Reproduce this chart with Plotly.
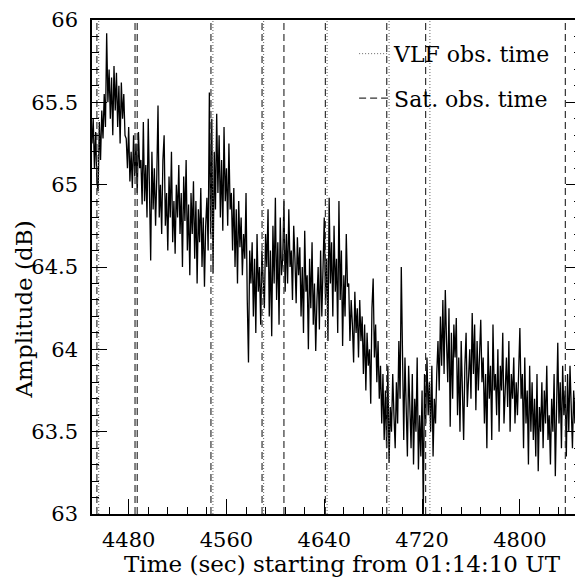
import plotly.graph_objects as go

# ---- data ----
t_start = 4450          # first sample time (s)
t_step = 1              # sampling step (s)
amplitude = [
    65.25, 65.40, 65.10, 65.32, 65.02, 64.96, 65.38, 65.15, 65.45, 65.28,
    65.55, 65.35, 65.92, 65.50, 65.70, 65.40, 65.65, 65.30, 65.72, 65.45,
    65.68, 65.35, 65.60, 65.25, 65.62, 65.40, 65.55, 65.30, 65.28, 65.10,
    65.35, 65.02, 65.20, 64.98, 65.30, 65.05, 65.25, 64.95, 65.32, 65.10,
    65.15, 64.88, 65.38, 64.90, 65.12, 64.80, 65.40, 65.00, 64.54, 65.20,
    64.85, 65.10, 64.75, 65.05, 65.48, 64.80, 65.00, 64.70, 65.15, 65.30,
    64.75, 64.95, 64.60, 65.05, 64.80, 65.20, 64.65, 64.90, 64.58, 65.00,
    64.80, 65.12, 64.70, 64.95, 64.50, 65.05, 64.78, 65.15, 64.60, 64.88,
    64.45, 64.95, 64.70, 65.02, 64.55, 64.90, 64.40, 64.85, 64.65, 64.98,
    64.50, 64.80, 64.38, 64.75, 64.92, 64.60, 65.56, 64.70, 65.40, 64.46,
    65.20, 64.85, 65.43, 64.95, 65.30, 64.80, 65.15, 64.72, 65.35, 64.90,
    65.10, 64.75, 65.25, 64.85, 64.95, 64.60, 64.98, 64.50, 64.85, 64.40,
    64.90, 64.62, 64.80, 64.45, 64.70, 64.55, 64.95, 64.30, 63.92, 64.60,
    64.40, 64.65, 64.20, 64.55, 64.10, 64.70, 64.35, 64.50, 64.15, 64.60,
    64.45, 64.25, 64.70, 64.50, 64.85, 64.20, 64.60, 64.08, 64.75, 64.40,
    64.92, 64.30, 64.65, 64.15, 64.80, 64.45, 64.55, 64.90, 64.35, 64.70,
    64.40, 64.85, 64.50, 64.60, 64.30, 64.75, 64.55, 64.28, 64.68, 64.45,
    64.62, 64.20, 64.50, 64.10, 64.72, 64.35, 64.45, 64.00, 64.55, 64.25,
    64.65, 64.15, 64.40, 63.99, 64.30, 64.50, 64.12, 64.60, 64.20, 64.45,
    64.80, 64.30, 64.55, 64.05, 64.92, 64.40, 64.65, 64.20, 64.75, 64.35,
    64.55, 64.10, 64.90, 64.30, 64.60, 64.02, 64.45, 64.20, 64.70, 64.38,
    64.40, 64.05, 64.30, 64.15, 63.92, 64.35, 64.10, 64.25, 63.95, 64.30,
    64.05, 64.20, 63.85, 64.15, 63.75, 64.10, 63.90, 64.00, 63.67, 64.25,
    64.43, 63.95, 64.15, 63.80, 64.05, 63.70, 63.90, 63.55, 63.85, 63.45,
    63.75, 63.40, 63.90, 63.31, 63.65, 63.50, 63.85, 63.60, 63.40, 63.80,
    63.55, 64.05, 63.70, 64.50, 63.80, 63.45, 63.95, 63.60, 63.35, 63.90,
    63.65, 63.40, 63.85, 63.30, 63.70, 63.50, 63.95, 63.27, 63.60, 63.35,
    63.75, 63.00, 63.85, 63.55, 63.95, 63.60, 63.80, 63.50, 63.90, 63.35,
    63.70, 63.55, 63.85, 64.05, 63.75, 64.20, 63.90, 64.30, 63.85, 64.36,
    64.05, 63.80, 64.25, 63.53, 64.10, 63.70, 64.15, 63.95, 64.19, 63.60,
    63.95, 63.50, 64.05, 63.75, 63.45, 63.90, 64.10, 63.65, 63.85, 64.00,
    63.70, 64.22, 63.85, 64.15, 63.63, 64.05, 63.75, 63.95, 64.18, 63.80,
    63.95, 63.55, 63.85, 63.40, 64.05, 63.70, 63.90, 63.45, 64.15, 63.75,
    63.85, 63.60, 64.00, 63.50, 63.90, 63.75, 64.10, 63.55, 63.80, 63.95,
    63.65, 64.05, 63.50, 63.85, 63.70, 63.95, 63.55, 63.80, 63.60, 63.90,
    64.13, 63.70, 63.85, 63.40, 63.95, 63.55, 63.75, 63.30, 63.90, 63.50,
    63.80, 63.45, 63.70, 63.35, 63.85, 63.26, 63.65, 63.50, 63.80, 63.40,
    63.75, 63.55, 63.90, 63.45, 63.60, 63.30, 63.70, 63.50, 63.85, 63.23,
    63.70, 64.04, 63.55, 63.80, 63.40, 63.90, 63.60, 63.75, 63.35, 63.85,
    63.50, 63.90, 63.65, 63.40, 63.75, 63.55, 63.85, 63.20, 63.88, 63.60,
]
vlf_obs_times = [4455.5, 4548.9, 4590.4, 4642.3, 4693.0, 4726.4]
sat_obs_times = [4454.0, 4485.2, 4487.0, 4547.3, 4589.1, 4607.0, 4640.9,
                 4691.1, 4722.9, 4837.2]
x_range = [4450, 4850]
y_range = [63, 66]
x_tick0, x_dtick, x_minor = 4480, 80, 16
y_dtick, y_minor = 0.5, 0.1

time = [t_start + i * t_step for i in range(len(amplitude))]


def vlines(times):
    xs, ys = [], []
    for t in times:
        xs += [t, t, None]
        ys += [y_range[0], y_range[1], None]
    return xs, ys


FONT = "DejaVu Serif"
fig = go.Figure()
fig.add_trace(go.Scatter(x=time, y=amplitude, mode="lines",
                         line=dict(color="black", width=1.3),
                         showlegend=False, hoverinfo="skip"))
vx, vy = vlines(vlf_obs_times)
fig.add_trace(go.Scatter(x=vx, y=vy, mode="lines", name="VLF obs. time",
                         line=dict(color="#666666", width=1, dash="1px,2px"),
                         legend="legend"))
sx, sy = vlines(sat_obs_times)
fig.add_trace(go.Scatter(x=sx, y=sy, mode="lines", name="Sat. obs. time",
                         line=dict(color="#333333", width=1.2, dash="7px,4px"),
                         legend="legend2"))

axis_common = dict(showgrid=False, zeroline=False, showline=True,
                   linecolor="black", linewidth=1.5, ticks="inside",
                   ticklen=15, tickwidth=1, tickcolor="black",
                   ticklabeloverflow="allow",
                   tickfont=dict(family=FONT, size=21, color="black"))
fig.update_xaxes(range=x_range, tickmode="linear", tick0=x_tick0,
                 dtick=x_dtick, mirror=True, ticklabelstandoff=6,
                 minor=dict(tickmode="linear", tick0=x_tick0, dtick=x_minor,
                            ticks="inside", ticklen=7, tickcolor="black",
                            showgrid=False),
                 **axis_common)
fig.update_yaxes(range=y_range, tickmode="linear", tick0=y_range[0],
                 dtick=y_dtick, mirror="ticks", ticklabelstandoff=8,
                 minor=dict(tickmode="linear", tick0=y_range[0], dtick=y_minor,
                            ticks="inside", ticklen=7, tickcolor="black",
                            showgrid=False),
                 **axis_common)

# the page body adds an 8px margin, so the figure is sized/offset to fit
leg_common = dict(xanchor="left", yanchor="top", bgcolor="rgba(0,0,0,0)",
                  borderwidth=0, font=dict(family=FONT, size=22, color="black"))
fig.update_layout(
    width=575, height=571,
    margin=dict(l=84, r=0, t=11, b=65),
    paper_bgcolor="white", plot_bgcolor="white",
    legend=dict(x=0.536, y=0.974, **leg_common),
    legend2=dict(x=0.536, y=0.884, **leg_common),
    annotations=[
        dict(text="Time (sec) starting from 01:14:10 UT", xref="paper",
             yref="paper", x=0.512, y=-0.1305, showarrow=False,
             xanchor="center", yanchor="bottom", borderpad=0,
             font=dict(family=FONT, size=23, color="black")),
        dict(text="Amplitude (dB)", xref="paper", yref="paper",
             x=-0.139, y=0.414, showarrow=False, textangle=-90,
             xanchor="center", yanchor="middle",
             font=dict(family=FONT, size=23, color="black")),
    ],
)
fig.write_html("out.html")
